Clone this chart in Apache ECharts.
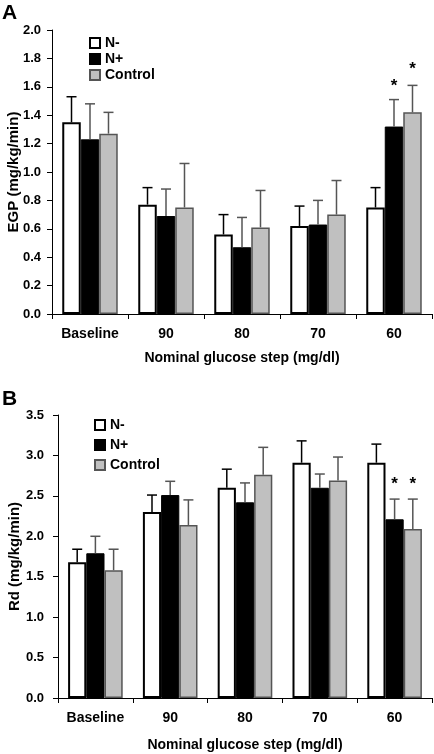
<!DOCTYPE html>
<html>
<head>
<meta charset="utf-8">
<script src="https://cdn.jsdelivr.net/npm/echarts@6/dist/echarts.min.js"></script>
<style>html,body{margin:0;padding:0;background:#fff;}#c{width:434px;height:754px;}</style>
</head>
<body>
<div id="c"></div>
<script>
// ---- data ----
const categories = ['Baseline', '90', '80', '70', '60'];
const seriesNames = ['N-', 'N+', 'Control'];

const egpNminus = [1.35, 0.77, 0.56, 0.62, 0.75];
const egpNminusErr = [0.18, 0.12, 0.14, 0.14, 0.14];
const egpNplus = [1.23, 0.69, 0.47, 0.63, 1.32];
const egpNplusErr = [0.25, 0.19, 0.21, 0.17, 0.19];
const egpControl = [1.27, 0.75, 0.61, 0.70, 1.42];
const egpControlErr = [0.15, 0.31, 0.26, 0.24, 0.19];

const rdNminus = [1.68, 2.30, 2.60, 2.91, 2.91];
const rdNminusErr = [0.16, 0.21, 0.23, 0.27, 0.23];
const rdNplus = [1.79, 2.51, 2.42, 2.60, 2.21];
const rdNplusErr = [0.21, 0.17, 0.24, 0.17, 0.25];
const rdControl = [1.58, 2.14, 2.76, 2.69, 2.09];
const rdControlErr = [0.26, 0.31, 0.34, 0.29, 0.37];

// significance asterisks: [category index, series index, y value]
const egpStars = [[4, 1, 1.63], [4, 2, 1.75]];
const rdStars = [[4, 1, 2.69], [4, 2, 2.69]];

const egpTicks = { min: 0, max: 2.0, interval: 0.2 };
const rdTicks = { min: 0, max: 3.5, interval: 0.5 };

// ---- styles ----
const FONT = "'Liberation Sans', Arial, sans-serif";
const GAP = 0.27;
const barStyles = [
  { color: '#ffffff', borderColor: '#000000', borderWidth: 2 },
  { color: '#000000', borderColor: '#000000', borderWidth: 1 },
  { color: '#c0c0c0', borderColor: '#555555', borderWidth: 1.5 }
];
const errColors = ['#000000', '#555555', '#555555'];

function errRender(idx) {
  return function (params, api) {
    const cat = api.value(0), v = api.value(1), e = api.value(2);
    const band = api.size([1, 0])[0];
    const bw = band * (1 - GAP) / 3;
    const base = api.coord([cat, v]);
    const top = api.coord([cat, v + e]);
    const x = base[0] + (idx - 1) * bw;
    const cap = 5;
    const st = { stroke: errColors[idx], lineWidth: 1.5 };
    return {
      type: 'group', children: [
        { type: 'line', shape: { x1: x, y1: base[1], x2: x, y2: top[1] }, style: st },
        { type: 'line', shape: { x1: x - cap, y1: top[1], x2: x + cap, y2: top[1] }, style: st }
      ]
    };
  };
}
function starRender(params, api) {
  const cat = api.value(0), idx = api.value(1), v = api.value(2);
  const band = api.size([1, 0])[0];
  const bw = band * (1 - GAP) / 3;
  const p = api.coord([cat, v]);
  return {
    type: 'text',
    style: { text: '*', x: p[0] + (idx - 1) * bw, y: p[1] + 4, align: 'center', verticalAlign: 'middle',
      font: 'bold 17px ' + FONT, fill: '#000' }
  };
}

function axes(gi, ticks, yName, yGap, labelMargin, xGap) {
  const x = {
    type: 'category', gridIndex: gi, data: categories,
    axisLine: { lineStyle: { color: '#000', width: 1 } },
    axisTick: { show: true, length: 5, interval: 0, lineStyle: { color: '#000' } },
    axisLabel: { color: '#000', fontWeight: 'bold', fontSize: 14, fontFamily: FONT, margin: 13, interval: 0 },
    name: 'Nominal glucose step (mg/dl)', nameLocation: 'middle', nameGap: xGap, nameMoveOverlap: false,
    nameTextStyle: { color: '#000', fontWeight: 'bold', fontSize: 14, fontFamily: FONT }
  };
  const y = {
    type: 'value', gridIndex: gi, min: ticks.min, max: ticks.max, interval: ticks.interval,
    splitLine: { show: false },
    axisLine: { show: true, lineStyle: { color: '#000', width: 1 } },
    axisTick: { show: true, length: 5, lineStyle: { color: '#000' } },
    axisLabel: { color: '#000', fontWeight: 'bold', fontSize: 13, fontFamily: FONT, margin: labelMargin,
      formatter: v => v.toFixed(1) },
    name: yName, nameLocation: 'middle', nameGap: yGap, nameRotate: 90, nameMoveOverlap: false,
    nameTextStyle: { color: '#000', fontWeight: 'bold', fontSize: 15, fontFamily: FONT }
  };
  return [x, y];
}

const [xA, yA] = axes(0, egpTicks, 'EGP (mg/kg/min)', 31, 11, 37);
const [xB, yB] = axes(1, rdTicks, 'Rd (mg/kg/min)', 36, 14, 40);

const panels = [
  { vals: [egpNminus, egpNplus, egpControl], errs: [egpNminusErr, egpNplusErr, egpControlErr], stars: egpStars },
  { vals: [rdNminus, rdNplus, rdControl], errs: [rdNminusErr, rdNplusErr, rdControlErr], stars: rdStars }
];

const series = [];
panels.forEach((p, gi) => {
  p.vals.forEach((vals, i) => {
    series.push({
      type: 'bar', name: seriesNames[i], xAxisIndex: gi, yAxisIndex: gi,
      data: vals, barGap: '0%', barCategoryGap: (GAP * 100) + '%',
      itemStyle: barStyles[i], emphasis: { disabled: true }, z: 2
    });
  });
  p.vals.forEach((vals, i) => {
    series.push({
      type: 'custom', xAxisIndex: gi, yAxisIndex: gi, z: 3, silent: true,
      renderItem: errRender(i),
      data: vals.map((v, k) => [k, v, p.errs[i][k]])
    });
  });
  series.push({
    type: 'custom', xAxisIndex: gi, yAxisIndex: gi, z: 4, silent: true,
    renderItem: starRender, data: p.stars
  });
});

const legendText = { color: '#000', fontWeight: 'bold', fontSize: 14, fontFamily: FONT };
const chart = echarts.init(document.getElementById('c'), null, { renderer: 'canvas' });
chart.setOption({
  animation: false,
  backgroundColor: '#fff',
  grid: [
    { left: 52, right: 2, top: 30, height: 284, containLabel: false, outerBoundsMode: 'none' },
    { left: 58, right: 2, top: 415, height: 283, containLabel: false, outerBoundsMode: 'none' }
  ],
  xAxis: [xA, xB],
  yAxis: [yA, yB],
  legend: [
    { data: seriesNames, orient: 'vertical', left: 84, top: 31, itemWidth: 10, itemHeight: 10, itemGap: 2,
      textStyle: legendText, selectedMode: false, icon: 'rect' },
    { data: seriesNames, orient: 'vertical', left: 89, top: 413, itemWidth: 10, itemHeight: 10, itemGap: 6,
      textStyle: legendText, selectedMode: false, icon: 'rect' }
  ],
  graphic: [
    { type: 'text', left: 2, top: 3, style: { text: 'A', font: 'bold 21px ' + FONT, fill: '#000' } },
    { type: 'text', left: 2, top: 389, style: { text: 'B', font: 'bold 21px ' + FONT, fill: '#000' } }
  ],
  series: series
});
</script>
</body>
</html>
